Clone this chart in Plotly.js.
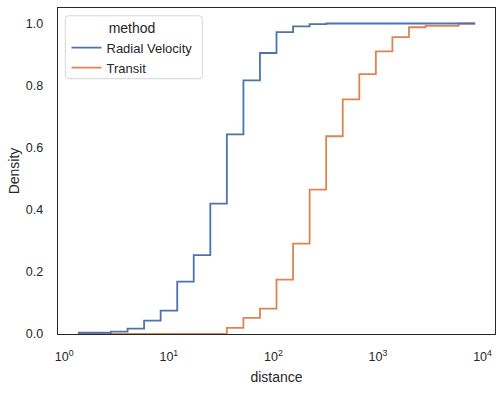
<!DOCTYPE html>
<html>
<head>
<meta charset="utf-8">
<script src="https://cdn.plot.ly/plotly-3.0.1.min.js"></script>
<style>html,body{margin:0;padding:0;background:#fff;}#chart{width:503px;height:394px;}</style>
</head>
<body>
<div id="chart"></div>
<script>
// Shared bin edges (distance, log-spaced)
const binEdges = [1.35, 1.944, 2.798, 4.029, 5.800, 8.352, 12.03, 17.31, 24.93, 35.89,
  51.68, 74.40, 107.1, 154.2, 222.1, 319.7, 460.3, 662.8, 954.3, 1374,
  1978, 2848, 4102, 5905, 8500];
// Cumulative density per bin
const radialVelocity = [0.004, 0.004, 0.0075, 0.017, 0.043, 0.075, 0.169, 0.254, 0.420, 0.643,
  0.817, 0.905, 0.972, 0.991, 0.998, 1.0, 1.0, 1.0, 1.0, 1.0,
  1.0, 1.0, 1.0, 1.0];
const transit = [0, 0, 0, 0, 0, 0, 0, 0, 0, 0.020,
  0.052, 0.082, 0.175, 0.291, 0.465, 0.637, 0.756, 0.837, 0.910, 0.956,
  0.988, 0.9925, 0.9925, 1.0];
const seriesNames = ["Radial Velocity", "Transit"];
const xTickVals = [1, 10, 100, 1000, 10000];
const xTickText = ["10<sup>0</sup>", "10<sup>1</sup>", "10<sup>2</sup>", "10<sup>3</sup>", "10<sup>4</sup>"];
const yTickVals = [0, 0.2, 0.4, 0.6, 0.8, 1.0];
const yTickText = ["0.0", "0.2", "0.4", "0.6", "0.8", "1.0"];

function stepY(vals){ return vals.concat([vals[vals.length-1]]); }

const FONT = "Liberation Sans, Arial, sans-serif";
const TXT = "#262626";

const traces = [
  {x: binEdges, y: stepY(transit), name: seriesNames[1], mode: "lines",
   line: {shape: "hv", color: "#DD8452", width: 1.8}, legendrank: 2},
  {x: binEdges, y: stepY(radialVelocity), name: seriesNames[0], mode: "lines",
   line: {shape: "hv", color: "#4C72B0", width: 1.8}, legendrank: 1}
];

// plot area in px: x 58..495, y 7.5..334
const PW = 437, PH = 326.5;
function px(x){ return (x-58)/PW; }
function py(y){ return (334-y)/PH; }
const bx0 = px(65.3), bx1 = px(202.3), by0 = py(78.3), by1 = py(15.3);
const rx = 3/PW, ry = 3/PH;
const boxPath = `M ${bx0+rx},${by1} L ${bx1-rx},${by1} Q ${bx1},${by1} ${bx1},${by1-ry} L ${bx1},${by0+ry} Q ${bx1},${by0} ${bx1-rx},${by0} L ${bx0+rx},${by0} Q ${bx0},${by0} ${bx0},${by0+ry} L ${bx0},${by1-ry} Q ${bx0},${by1} ${bx0+rx},${by1} Z`;

const layout = {
  width: 503, height: 394,
  margin: {l: 58, r: 8, t: 7.5, b: 60, pad: 0},
  paper_bgcolor: "#fff", plot_bgcolor: "#fff",
  font: {family: FONT, color: TXT, size: 12.5},
  showlegend: true,
  legend: {
    x: px(66.5), y: py(14), xanchor: "left", yanchor: "top",
    bgcolor: "rgba(0,0,0,0)", borderwidth: 0,
    font: {family: FONT, size: 13, color: TXT},
    title: {text: "method", side: "top center", font: {family: FONT, size: 14, color: TXT}}
  },
  shapes: [{type: "path", xref: "paper", yref: "paper", path: boxPath,
    line: {color: "#d6d6d6", width: 1}, fillcolor: "rgba(255,255,255,0.8)", layer: "above"}],
  xaxis: {
    type: "log", range: [-0.0597, 4.119],
    tickvals: xTickVals, ticktext: xTickText, ticks: "", ticklabelstandoff: 11,
    showgrid: false, zeroline: false,
    showline: true, mirror: true, linecolor: TXT, linewidth: 1.25,
    tickfont: {family: FONT, size: 12.5, color: TXT},
    title: {text: "distance", font: {family: FONT, size: 14, color: TXT}, standoff: 9}
  },
  yaxis: {
    range: [0, 1.05],
    tickvals: yTickVals, ticktext: yTickText, ticks: "", ticklabelstandoff: 11,
    showgrid: false, zeroline: false,
    showline: true, mirror: true, linecolor: TXT, linewidth: 1.25,
    tickfont: {family: FONT, size: 12.5, color: TXT},
    title: {text: "Density", font: {family: FONT, size: 14, color: TXT}, standoff: 3}
  }
};

Plotly.newPlot("chart", traces, layout, {displayModeBar: false, staticPlot: true});
</script>
</body>
</html>
